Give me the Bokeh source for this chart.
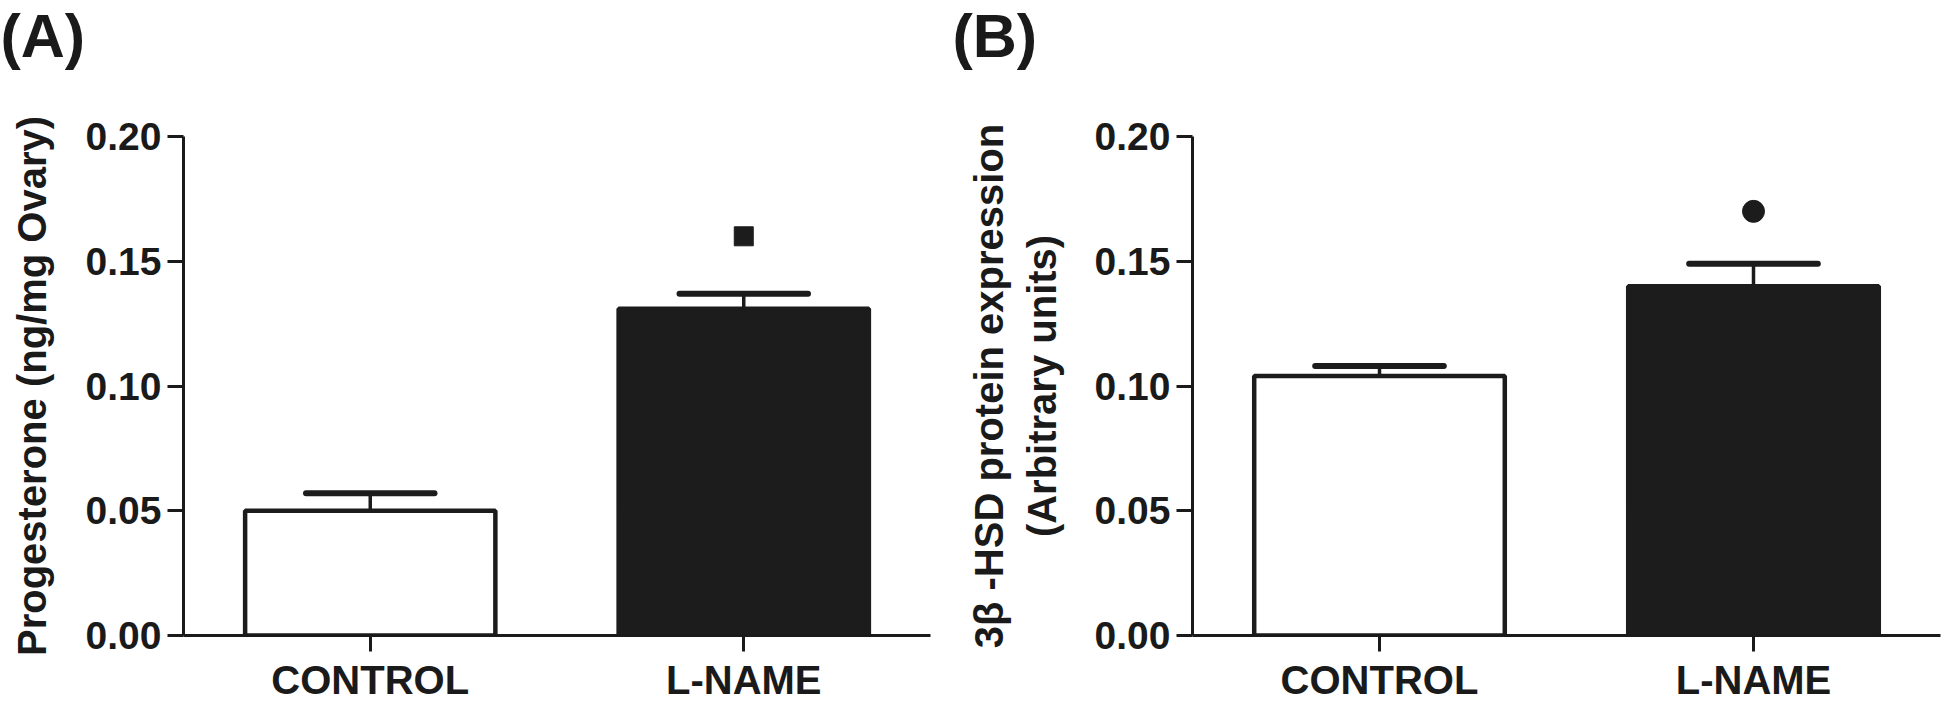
from bokeh.plotting import figure
from bokeh.models import (FixedTicker, NumeralTickFormatter, ColumnDataSource,
                          FactorRange, Range1d)
from bokeh.transform import dodge
from bokeh.layouts import row
from bokeh.embed import file_html
from bokeh.resources import INLINE

# ---- data ----
categories = ["CONTROL", "L-NAME"]
prog_mean = [0.050, 0.131]
prog_sem = [0.007, 0.006]
hsd_mean = [0.104, 0.140]
hsd_sem = [0.004, 0.009]
sig_category = ["L-NAME"]
prog_sig = [0.160]
hsd_sig = [0.170]
y_ticks = [0.00, 0.05, 0.10, 0.15, 0.20]
bar_colors = ["white", "#1c1c1c"]

INK = "#1a1a1a"
FONT = "Liberation Sans"


def make_panel(mean, sem, sig_y, marker, msize, ylabel, width, mbl, mbr, tag, lab_standoff):
    p = figure(x_range=FactorRange(*categories, range_padding=0),
               y_range=Range1d(0, 0.2),
               width=width, height=705,
               output_backend="svg", toolbar_location=None,
               min_border_left=mbl, min_border_right=mbr,
               min_border_top=135, min_border_bottom=70)
    p.outline_line_color = None
    p.xgrid.grid_line_color = None
    p.ygrid.grid_line_color = None

    src = ColumnDataSource(dict(cat=categories, mean=mean,
                                top=[m + s for m, s in zip(mean, sem)],
                                color=bar_colors))
    p.vbar(x="cat", top="mean", width=0.67, source=src,
           fill_color="color", line_color="#1c1c1c", line_width=4.5)
    p.segment(x0="cat", y0="mean", x1="cat", y1="top", source=src,
              line_color="#1c1c1c", line_width=3.5)
    p.segment(x0=dodge("cat", -0.172, range=p.x_range), y0="top",
              x1=dodge("cat", 0.172, range=p.x_range), y1="top", source=src,
              line_color="#1c1c1c", line_width=6, line_cap="round")
    p.scatter(x=sig_category, y=sig_y, marker=marker, size=msize,
              fill_color="#1c1c1c", line_color="#1c1c1c")

    for ax in (p.xaxis[0], p.yaxis[0]):
        ax.axis_line_width = 3
        ax.axis_line_color = INK
        ax.major_tick_line_width = 3
        ax.major_tick_line_color = INK
        ax.major_tick_out = 16
        ax.major_tick_in = 0
        ax.minor_tick_line_color = None
        ax.major_label_text_font = FONT
        ax.major_label_text_font_style = "bold"
        ax.major_label_text_color = INK

    p.xaxis.major_label_text_font_size = "40px"
    p.xaxis.major_label_standoff = 6

    p.yaxis.ticker = FixedTicker(ticks=y_ticks, minor_ticks=[])
    p.yaxis.formatter = NumeralTickFormatter(format="0.00")
    p.yaxis.major_label_text_font_size = "39px"
    p.yaxis.major_label_standoff = 6
    p.yaxis.axis_label = ylabel
    p.yaxis.axis_label_text_font = FONT
    p.yaxis.axis_label_text_font_style = "bold"
    p.yaxis.axis_label_text_font_size = "40px"
    p.yaxis.axis_label_text_color = INK
    p.yaxis.axis_label_standoff = lab_standoff

    # panel tag: an empty second line makes the title box tall so that the
    # tag sits at the very top of the figure while the frame stays in place
    p.title.text = tag + "\n "
    p.title.align = "left"
    p.title.vertical_align = "top"
    p.title.offset = -mbl
    p.title.standoff = 2
    p.title.text_line_height = 0.94
    p.title.text_font = FONT
    p.title.text_font_style = "bold"
    p.title.text_font_size = "61px"
    p.title.text_color = INK
    return p


pA = make_panel(prog_mean, prog_sem, prog_sig, "square", 19,
                "Progesterone (ng/mg Ovary)", 952, 183, 22, "(A)", 29)
pB = make_panel(hsd_mean, hsd_sem, hsd_sig, "circle", 22,
                "3\u03b2 -HSD protein expression\n(Arbitrary units)", 992, 240, 4, "(B)", 28)

layout = row(pA, pB)
open("out.html", "w").write(file_html(layout, INLINE))
